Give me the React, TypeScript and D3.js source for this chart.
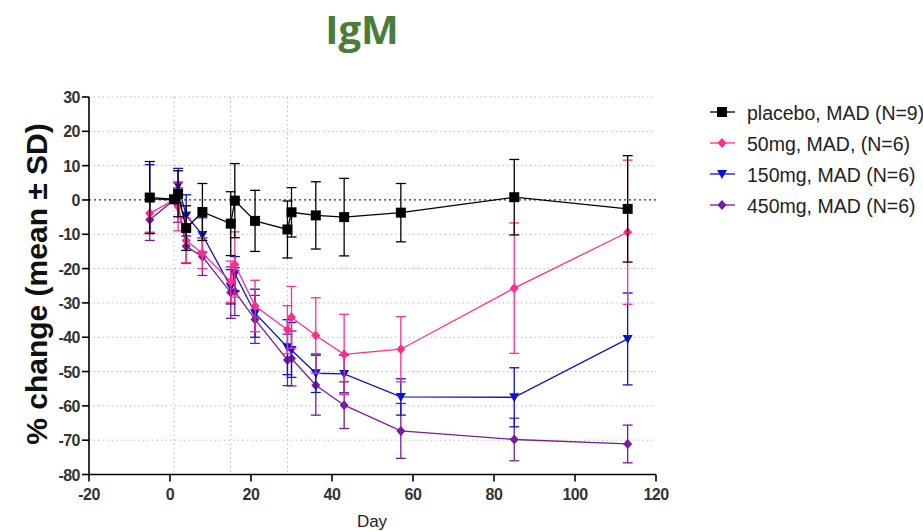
import React from "react";
import * as d3 from "d3";

const days = [-5, 1, 2, 4, 8, 15, 16, 21, 29, 30, 36, 43, 57, 85, 113];

const placeboMean = [0.7, 0.2, 1.8, -8.2, -3.5, -6.9, -0.2, -6.1, -8.6, -3.6, -4.5, -5.0, -3.7, 0.8, -2.6];
const placeboSD = [10.5, 0, 6.7, 6.5, 8.3, 9.3, 10.8, 8.9, 8.3, 7.2, 9.8, 11.3, 8.5, 11, 15.5];

const mg50Mean = [-3.9, 0, -2.0, -11.8, -15.5, -23.8, -18.8, -30.9, -37.8, -34.2, -39.5, -45.0, -43.5, -25.7, -9.4];
const mg50SD = [5.5, 0, 7, 6.5, 4.5, 6, 9.5, 7.5, 7, 9, 11, 11.7, 9.5, 19, 21];

const mg150Mean = [0.3, 0, 4.2, -4.5, -10.2, -25.3, -21.5, -33, -42.9, -43.7, -50.5, -50.7, -57.4, -57.5, -40.5];
const mg150SD = [10, 0, 5, 6, 5, 5, 5, 7, 8, 8, 5.6, 5.5, 5.3, 8.6, 13.4];

const mg450Mean = [-5.8, 0, -1.5, -13.5, -16.5, -27, -26.7, -34.8, -46.6, -46.2, -54, -59.8, -67.3, -69.8, -71.1];
const mg450SD = [6, 0, 5, 5, 5.5, 7.5, 7, 7, 7.5, 8, 8.7, 6.8, 8, 6.2, 5.5];

const seriesNames = ["placebo, MAD (N=9)", "50mg, MAD, (N=6)", "150mg, MAD (N=6)", "450mg, MAD (N=6)"];
const xTicks = [-20, 0, 20, 40, 60, 80, 100, 120];
const yTicks = [30, 20, 10, 0, -10, -20, -30, -40, -50, -60, -70, -80];
const refDays = [1, 15, 29];

const colors = ["#000000", "#ff2d8c", "#1010d0", "#7a1c9a"];
const shapes = ["square", "diamond", "tri", "diamond"];

const x = d3.scaleLinear().domain([-20, 120]).range([89, 656]);
const y = d3.scaleLinear().domain([-80, 30]).range([474.5, 97]);

function Marker({ shape, cx, cy, color }: { shape: string; cx: number; cy: number; color: string }) {
  if (shape === "square") return <rect x={cx - 5} y={cy - 5} width={10} height={10} fill={color} />;
  if (shape === "diamond")
    return <path d={`M${cx},${cy - 5}L${cx + 4.5},${cy}L${cx},${cy + 5}L${cx - 4.5},${cy}Z`} fill={color} />;
  return <path d={`M${cx - 5},${cy - 4}L${cx + 5},${cy - 4}L${cx},${cy + 5}Z`} fill={color} />;
}

export default function App() {
  const series = [
    { mean: placeboMean, sd: placeboSD },
    { mean: mg50Mean, sd: mg50SD },
    { mean: mg150Mean, sd: mg150SD },
    { mean: mg450Mean, sd: mg450SD },
  ];
  const line = d3
    .line<number>()
    .x((_, i) => x(days[i]))
    .y((d) => y(d));
  const drawOrder = [3, 2, 1, 0];
  const font = "Liberation Sans, Arial, sans-serif";
  return (
    <svg width={923} height={532} style={{ position: "absolute", left: 0, top: 0 }}>
      <rect width={923} height={532} fill="#fff" />
      <text x={362} y={44} textAnchor="middle" fontFamily="Open Sans, sans-serif" fontWeight="bold" fontSize={40} fill="#4a7c3a">
        IgM
      </text>
      {/* grid */}
      {yTicks
        .filter((t) => t !== 0 && t !== -80)
        .map((t) => (
          <line key={t} x1={x(-20)} x2={x(120)} y1={y(t)} y2={y(t)} stroke="#bbb" strokeWidth={1} strokeDasharray="1.5,3" />
        ))}
      {refDays.map((d) => (
        <line key={d} x1={x(d)} x2={x(d)} y1={y(30)} y2={y(-80)} stroke="#bbb" strokeWidth={1} strokeDasharray="1.5,3" />
      ))}
      <line x1={x(-20)} x2={x(120)} y1={y(0)} y2={y(0)} stroke="#333" strokeWidth={1.2} strokeDasharray="2,3" />
      {/* series */}
      {drawOrder.map((si) => {
        const s = series[si];
        const c = colors[si];
        return (
          <g key={si}>
            {s.mean.map((m, i) =>
              s.sd[i] > 0 ? (
                <g key={i} stroke={c} strokeWidth={1.3}>
                  <line x1={x(days[i])} x2={x(days[i])} y1={y(m + s.sd[i])} y2={y(m - s.sd[i])} />
                  <line x1={x(days[i]) - 5} x2={x(days[i]) + 5} y1={y(m + s.sd[i])} y2={y(m + s.sd[i])} />
                  <line x1={x(days[i]) - 5} x2={x(days[i]) + 5} y1={y(m - s.sd[i])} y2={y(m - s.sd[i])} />
                </g>
              ) : null
            )}
            <path d={line(s.mean) || ""} fill="none" stroke={c} strokeWidth={1.3} />
            {s.mean.map((m, i) => (
              <Marker key={i} shape={shapes[si]} cx={x(days[i])} cy={y(m)} color={c} />
            ))}
          </g>
        );
      })}
      {/* axes */}
      <line x1={x(-20)} x2={x(-20)} y1={y(30)} y2={y(-80) + 0.5} stroke="#000" strokeWidth={1.6} />
      <line x1={x(-20)} x2={x(120)} y1={y(-80)} y2={y(-80)} stroke="#000" strokeWidth={1.6} />
      {yTicks.map((t) => (
        <g key={t}>
          <line x1={x(-20) - 7} x2={x(-20)} y1={y(t)} y2={y(t)} stroke="#000" strokeWidth={1.6} />
          <text x={x(-20) - 9} y={y(t) + 6} textAnchor="end" fontFamily={font} fontWeight="bold" fontSize={16} letterSpacing={-0.5} fill="#333">
            {t}
          </text>
        </g>
      ))}
      {xTicks.map((t) => (
        <g key={t}>
          <line x1={x(t)} x2={x(t)} y1={y(-80)} y2={y(-80) + 7} stroke="#000" strokeWidth={1.6} />
          <text x={x(t)} y={y(-80) + 25} textAnchor="middle" fontFamily={font} fontWeight="bold" fontSize={16} letterSpacing={-0.5} fill="#333">
            {t}
          </text>
        </g>
      ))}
      <text x={372} y={527} textAnchor="middle" fontFamily={font} fontSize={17} fill="#222">
        Day
      </text>
      <text
        transform={`translate(47,284) rotate(-90)`}
        textAnchor="middle"
        fontFamily={font}
        fontWeight="bold"
        fontSize={30}
        fill="#111"
      >
        % change (mean ± SD)
      </text>
      {/* legend */}
      {seriesNames.map((n, i) => {
        const ly = 112 + i * 31;
        return (
          <g key={n}>
            <line x1={710} x2={735} y1={ly} y2={ly} stroke={colors[i]} strokeWidth={1.3} />
            <Marker shape={shapes[i]} cx={722} cy={ly} color={colors[i]} />
            <text x={747} y={ly + 7.5} fontFamily={font} fontSize={19.5} fill="#222">
              {n}
            </text>
          </g>
        );
      })}
    </svg>
  );
}
